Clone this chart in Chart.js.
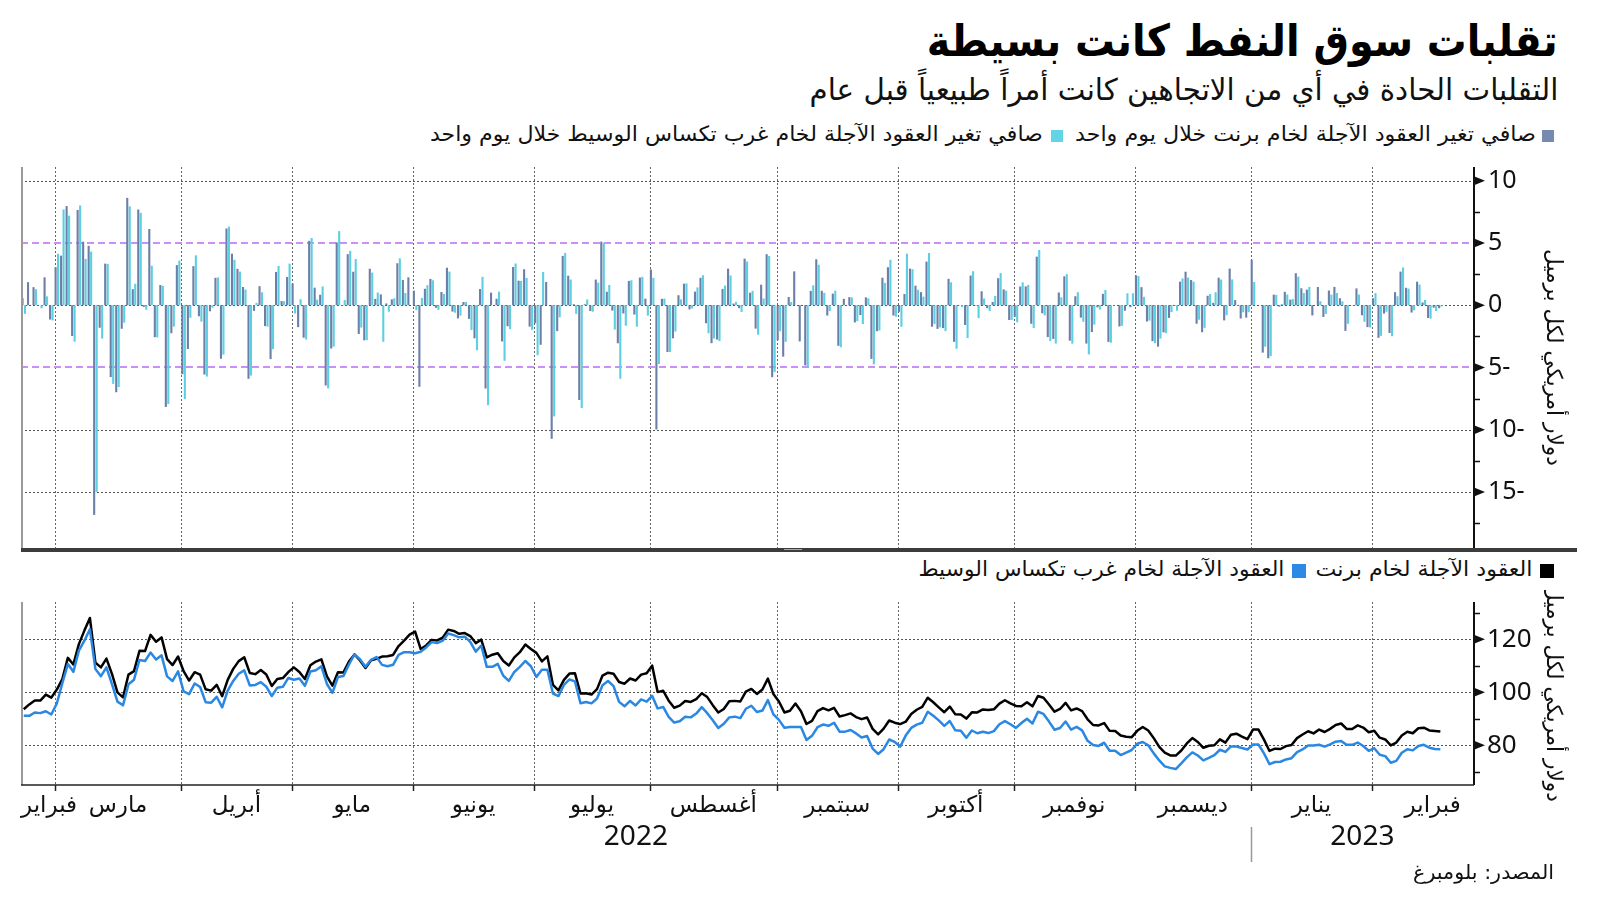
<!DOCTYPE html>
<html lang="ar">
<head>
<meta charset="UTF-8">
<title>تقلبات سوق النفط كانت بسيطة</title>
<script src="https://cdn.jsdelivr.net/npm/chart.js"></script>
<style>
  body { margin: 0; width: 1600px; height: 901px; background: #fff; position: relative; overflow: hidden; font-family: 'DejaVu Sans', sans-serif; }
  .t { position: absolute; white-space: nowrap; direction: rtl; color: #111; line-height: 1; transform-origin: right center; }
  .sq { position: absolute; width: 12px; height: 12px; }
  canvas { position: absolute; left: 0; }
</style>
</head>
<body>
<div class="t fit" data-w="631" style="right:42px;top:19px;font-size:44px;font-weight:bold;color:#000">تقلبات سوق النفط كانت بسيطة</div>
<div class="t fit" data-w="749" style="right:42px;top:75px;font-size:30px;">التقلبات الحادة في أي من الاتجاهين كانت أمراً طبيعياً قبل عام</div>

<div class="sq" style="left:1542px;top:130px;background:#7689b0"></div>
<div class="t fit" data-w="461" style="right:64px;top:124px;font-size:21px">صافي تغير العقود الآجلة لخام برنت خلال يوم واحد</div>
<div class="sq" style="left:1051px;top:130px;background:#63d4e5"></div>
<div class="t fit" data-w="613" style="right:557px;top:124px;font-size:21px">صافي تغير العقود الآجلة لخام غرب تكساس الوسيط خلال يوم واحد</div>

<canvas id="bars" width="1600" height="392" style="top:160px"></canvas>
<canvas id="prices" width="1600" height="290" style="top:590px"></canvas>

<div style="position:absolute;left:21px;top:548px;width:1556px;height:4px;background:#3c3c3c"></div>
<div style="position:absolute;left:784px;top:549px;width:18px;height:1px;background:#aaa"></div>

<div class="sq" style="left:1540px;top:564px;width:14px;height:14px;background:#000"></div>
<div class="t fit" data-w="217" style="right:68px;top:559px;font-size:21px">العقود الآجلة لخام برنت</div>
<div class="sq" style="left:1292px;top:564px;width:14px;height:14px;background:#2a8ae6"></div>
<div class="t fit" data-w="366" style="right:316px;top:559px;font-size:21px">العقود الآجلة لخام غرب تكساس الوسيط</div>

<div class="t fit" data-w="141" style="right:46px;top:862px;font-size:20px">المصدر: بلومبرغ</div>

<script>
// months on the x axis (trading sessions per month, Feb 2022 - Feb 2023)
const monthNames = ['فبراير', 'مارس', 'أبريل', 'مايو', 'يونيو', 'يوليو', 'أغسطس', 'سبتمبر', 'أكتوبر', 'نوفمبر', 'ديسمبر', 'يناير', 'فبراير'];
const monthDays = [7, 23, 20, 22, 22, 21, 23, 22, 21, 22, 21, 22, 12];
const yearLabels = ['2022', '2023'];
const yearFirstMonth = [0, 11];

const barTicks = [-15, -10, -5, 0, 5, 10];
const barMinorTicks = [-17.5, -12.5, -7.5, -2.5, 2.5, 7.5];
const barGridValues = [-15, -10, 0, 10];
const bandValues = [-5, 5];
const priceTicks = [80, 100, 120];
const priceMinorTicks = [70, 90, 110, 130];
const yTitle = 'دولار أمريكي لكل برميل';

// daily net change, USD
const brentChange = [
  0.57, 1.85, 1.45, 0.00, 2.24, -1.15, 3.06,
  3.98, 7.96, -2.47, 7.65, 5.10, 4.77, -16.84, -1.81, 3.34, -5.77, -6.99, -1.89, 8.62, 1.29, 7.69, -0.14, 6.12, -2.57, 1.62, -8.17, -2.25, 3.22, -5.54,
  -3.52, 3.14, -0.89, -5.57, -0.49, 2.20, -4.30, 6.16, 4.14, 2.92, 1.46, -5.91, -0.45, 1.53, -1.68, -4.33, 2.67, 0.33, 2.27, 1.75,
  -1.76, -2.61, 5.17, 1.41, 0.84, -6.45, -3.48, 5.05, -0.06, 4.10, 2.69, -2.31, -2.82, 2.93, 0.51, 0.87, 0.14, 0.47, 3.37, 2.03, 2.24, 1.17,
  -6.55, 1.32, 2.11, -0.21, 1.06, 3.01, -0.51, -1.06, 0.26, -1.10, -2.66, 1.30, -6.69, 1.01, 0.52, -2.91, -1.69, 3.07, 1.97, 2.89, -1.72, -1.45,
  -3.18, 1.87, -10.73, -2.08, 3.96, 2.37, 0.08, -7.61, 0.08, -0.47, 2.06, 5.11, 1.08, -0.43, -3.06, -0.66, 1.95, -0.75, 2.22, 0.52, 2.87,
  -9.98, 0.51, -3.76, -2.66, 0.80, 1.73, -0.34, 1.09, 2.20, -1.45, -3.05, -2.76, 1.31, 2.94, 0.13, -0.24, 3.74, 1.00, -1.88, 1.65, 4.10, -5.78, -2.82,
  -4.13, 0.66, 2.72, -2.91, -4.83, 1.15, 3.69, 1.16, -0.83, 0.93, -3.26, 0.51, 0.65, -1.38, -0.79, 0.63, -4.31, -2.09, 2.21, 3.05, -0.83, -0.53,
  0.90, 2.94, 1.57, 1.05, 3.50, -1.73, -1.90, -1.84, 2.12, -2.94, -0.01, -1.59, 2.38, -0.03, 1.12, -0.24, 0.26, 2.17, 1.27, -1.19, -0.94,
  1.50, 1.51, -1.49, 3.90, -0.65, -2.56, -2.71, 1.02, 2.32, -2.85, 0.72, -1.00, -3.08, -2.16, -0.17, 0.91, -2.95, -0.07, -1.71, -0.44, -0.16, 2.40,
  1.45, -1.31, -2.89, -3.33, -2.18, -1.02, -0.05, 1.89, 2.69, 2.02, -1.49, -2.17, 0.76, 0.19, 2.21, -1.22, 2.94, 0.41, -1.07, -1.00, 3.65,
  0.00, -3.81, -4.26, 0.85, -0.12, 1.08, 0.45, 2.57, 1.36, 1.25, -0.82, 1.46, -0.94, 1.18, 1.47, 0.56, -2.06, -0.01, 1.35, -0.81, -1.76, 0.56,
  -2.62, -0.67, -2.23, 1.05, 2.70, 1.40, -0.59, 1.89, 0.22, -1.03, -0.20, -0.24
];
const wtiChange = [
  -0.69, 0.00, 1.28, -0.25, 0.71, -1.22, 4.13,
  7.69, 7.19, -2.93, 8.01, 3.72, 4.30, -15.00, -2.68, 3.31, -6.32, -6.57, -1.40, 7.94, 1.72, 7.42, -0.36, 3.17, -2.59, 1.56, -7.94, -1.72, 3.58, -7.54,
  -1.01, 4.01, -1.32, -5.73, -0.20, 2.23, -3.97, 6.31, 3.65, 2.70, 1.26, -5.65, 0.19, 1.04, -1.72, -3.53, 3.16, 0.32, 3.34, -0.67,
  0.48, -2.76, 5.40, 0.45, 1.51, -6.68, -3.33, 5.95, 0.42, 4.36, 3.71, -1.80, -2.81, 2.62, 1.02, -2.94, -0.52, 0.56, 3.76, 0.98, 0.00, -0.40,
  0.59, 1.61, 2.00, -0.37, 0.91, 2.70, -0.60, -0.84, 0.26, -2.00, -3.62, 2.28, -8.03, 0.00, 1.09, -4.46, -1.92, 3.35, 1.95, 2.19, -1.98, -4.02,
  2.67, 0.00, -8.93, -0.97, 4.20, 2.06, -0.70, -8.25, 0.46, -0.52, 1.81, 5.01, 1.62, -1.96, -5.91, -1.65, 2.00, -1.72, 2.28, -0.84, 2.20,
  -4.73, 0.53, -3.76, -2.12, 0.47, 1.75, -0.26, 1.43, 2.41, -2.25, -2.68, -2.88, 1.58, 2.39, 0.27, -0.54, 3.51, 1.15, -2.37, 0.54, 3.95, -5.37, -2.09,
  -2.94, 0.26, 0.00, 0.01, -4.94, 1.60, 3.25, 0.99, -0.47, 1.17, -3.38, 0.01, 0.62, -1.28, -1.51, 0.55, -4.75, -2.03, 1.79, 3.65, -0.92, -1.74,
  4.14, 2.89, 1.24, 0.69, 4.19, -1.51, -1.78, -2.08, 1.84, -3.50, -0.15, -2.64, 2.73, -1.04, 0.54, -0.47, 0.74, 2.59, 1.17, -1.18, -1.37,
  1.84, 1.63, -1.83, 4.44, -0.82, -2.88, -3.08, 0.64, 2.49, -3.09, 1.05, -1.33, -3.95, -1.56, -0.35, 1.22, -3.01, 0.00, -1.66, 0.96, 0.96, 2.35,
  0.67, -1.24, -3.05, -2.68, -2.24, -0.55, -0.44, 2.15, 2.22, 1.89, -1.17, -1.82, 0.90, 1.04, 2.06, -0.80, 2.07, -0.03, -0.57, -0.56, 1.86,
  0.00, -3.33, -4.09, 0.83, 0.10, 0.86, 0.49, 2.29, 0.98, 1.47, 0.00, 0.32, -0.70, 0.85, 0.98, 0.31, -1.49, 0.02, 0.86, -1.33, -1.78, 0.97,
  -2.46, -0.53, -2.49, 0.72, 3.03, 1.33, -0.41, 1.66, 0.42, -1.08, -0.47, -0.10
];

// front-month futures, USD per barrel
const brentPrice = [
  93.54, 95.39, 96.84, 96.84, 99.08, 97.93, 100.99,
  104.97, 112.93, 110.46, 118.11, 123.21, 127.98, 111.14, 109.33, 112.67, 106.90, 99.91, 98.02, 106.64, 107.93, 115.62, 115.48, 121.60, 119.03, 120.65, 112.48, 110.23, 113.45, 107.91,
  104.39, 107.53, 106.64, 101.07, 100.58, 102.78, 98.48, 104.64, 108.78, 111.70, 113.16, 107.25, 106.80, 108.33, 106.65, 102.32, 104.99, 105.32, 107.59, 109.34,
  107.58, 104.97, 110.14, 111.55, 112.39, 105.94, 102.46, 107.51, 107.45, 111.55, 114.24, 111.93, 109.11, 112.04, 112.55, 113.42, 113.56, 114.03, 117.40, 119.43, 121.67, 122.84,
  116.29, 117.61, 119.72, 119.51, 120.57, 123.58, 123.07, 122.01, 122.27, 121.17, 118.51, 119.81, 113.12, 114.13, 114.65, 111.74, 110.05, 113.12, 115.09, 117.98, 116.26, 114.81,
  111.63, 113.50, 102.77, 100.69, 104.65, 107.02, 107.10, 99.49, 99.57, 99.10, 101.16, 106.27, 107.35, 106.92, 103.86, 103.20, 105.15, 104.40, 106.62, 107.14, 110.01,
  100.03, 100.54, 96.78, 94.12, 94.92, 96.65, 96.31, 97.40, 99.60, 98.15, 95.10, 92.34, 93.65, 96.59, 96.72, 96.48, 100.22, 101.22, 99.34, 100.99, 105.09, 99.31, 96.49,
  92.36, 93.02, 95.74, 92.83, 88.00, 89.15, 92.84, 94.00, 93.17, 94.10, 90.84, 91.35, 92.00, 90.62, 89.83, 90.46, 86.15, 84.06, 86.27, 89.32, 88.49, 87.96,
  88.86, 91.80, 93.37, 94.42, 97.92, 96.19, 94.29, 92.45, 94.57, 91.63, 91.62, 90.03, 92.41, 92.38, 93.50, 93.26, 93.52, 95.69, 96.96, 95.77, 94.83,
  94.65, 96.16, 94.67, 98.57, 97.92, 95.36, 92.65, 93.67, 95.99, 93.14, 93.86, 92.86, 89.78, 87.62, 87.45, 88.36, 85.41, 85.34, 83.63, 83.19, 83.03, 85.43,
  86.88, 85.57, 82.68, 79.35, 77.17, 76.15, 76.10, 77.99, 80.68, 82.70, 81.21, 79.04, 79.80, 79.99, 82.20, 80.98, 83.92, 84.33, 83.26, 82.26, 85.91,
  85.91, 82.10, 77.84, 78.69, 78.57, 79.65, 80.10, 82.67, 84.03, 85.28, 84.46, 85.92, 84.98, 86.16, 87.63, 88.19, 86.13, 86.12, 87.47, 86.66, 84.90, 85.46,
  82.84, 82.17, 79.94, 80.99, 83.69, 85.09, 84.50, 86.39, 86.61, 85.58, 85.38, 85.14
];
const wtiPrice = [
  91.07, 91.07, 92.35, 92.10, 92.81, 91.59, 95.72,
  103.41, 110.60, 107.67, 115.68, 119.40, 123.70, 108.70, 106.02, 109.33, 103.01, 96.44, 95.04, 102.98, 104.70, 112.12, 111.76, 114.93, 112.34, 113.90, 105.96, 104.24, 107.82, 100.28,
  99.27, 103.28, 101.96, 96.23, 96.03, 98.26, 94.29, 100.60, 104.25, 106.95, 108.21, 102.56, 102.75, 103.79, 102.07, 98.54, 101.70, 102.02, 105.36, 104.69,
  105.17, 102.41, 107.81, 108.26, 109.77, 103.09, 99.76, 105.71, 106.13, 110.49, 114.20, 112.40, 109.59, 112.21, 113.23, 110.29, 109.77, 110.33, 114.09, 115.07, 115.07, 114.67,
  115.26, 116.87, 118.87, 118.50, 119.41, 122.11, 121.51, 120.67, 120.93, 118.93, 115.31, 117.59, 109.56, 109.56, 110.65, 106.19, 104.27, 107.62, 109.57, 111.76, 109.78, 105.76,
  108.43, 108.43, 99.50, 98.53, 102.73, 104.79, 104.09, 95.84, 96.30, 95.78, 97.59, 102.60, 104.22, 102.26, 96.35, 94.70, 96.70, 94.98, 97.26, 96.42, 98.62,
  93.89, 94.42, 90.66, 88.54, 89.01, 90.76, 90.50, 91.93, 94.34, 92.09, 89.41, 86.53, 88.11, 90.50, 90.77, 90.23, 93.74, 94.89, 92.52, 93.06, 97.01, 91.64, 89.55,
  86.61, 86.87, 86.87, 86.88, 81.94, 83.54, 86.79, 87.78, 87.31, 88.48, 85.10, 85.11, 85.73, 84.45, 82.94, 83.49, 78.74, 76.71, 78.50, 82.15, 81.23, 79.49,
  83.63, 86.52, 87.76, 88.45, 92.64, 91.13, 89.35, 87.27, 89.11, 85.61, 85.46, 82.82, 85.55, 84.51, 85.05, 84.58, 85.32, 87.91, 89.08, 87.90, 86.53,
  88.37, 90.00, 88.17, 92.61, 91.79, 88.91, 85.83, 86.47, 88.96, 85.87, 86.92, 85.59, 81.64, 80.08, 79.73, 80.95, 77.94, 77.94, 76.28, 77.24, 78.20, 80.55,
  81.22, 79.98, 76.93, 74.25, 72.01, 71.46, 71.02, 73.17, 75.39, 77.28, 76.11, 74.29, 75.19, 76.23, 78.29, 77.49, 79.56, 79.53, 78.96, 78.40, 80.26,
  80.26, 76.93, 72.84, 73.67, 73.77, 74.63, 75.12, 77.41, 78.39, 79.86, 79.86, 80.18, 79.48, 80.33, 81.31, 81.62, 80.13, 80.15, 81.01, 79.68, 77.90, 78.87,
  76.41, 75.88, 73.39, 74.11, 77.14, 78.47, 78.06, 79.72, 80.14, 79.06, 78.59, 78.49
];

// first session index of every month
const monthStart = [];
monthDays.reduce((acc, d) => { monthStart.push(acc); return acc + d; }, 0);
const ruleShift = 1.4;  // month rules sit a little before the first session
const xMin = -0.5, xMax = 263.1;

const fmt = v => v < 0 ? Math.abs(v) + '-' : String(v);
const toXY = arr => arr.map((v, i) => ({ x: i, y: v }));

function hline(ctx, x1, x2, y) { ctx.beginPath(); ctx.moveTo(x1, y); ctx.lineTo(x2, y); ctx.stroke(); }
function vline(ctx, x, y1, y2) { ctx.beginPath(); ctx.moveTo(x, y1); ctx.lineTo(x, y2); ctx.stroke(); }
const snap = p => Math.round(p) + 0.5;

function monthRules(chart) {
  const x = chart.scales.x;
  return monthStart.slice(1).map(s => x.getPixelForValue(s - ruleShift));
}

function drawAxisDecor(chart, majors, minors) {
  const { ctx, chartArea: a, scales: { y } } = chart;
  ctx.save();
  ctx.setLineDash([]);
  ctx.strokeStyle = '#9a9a9a'; ctx.lineWidth = 2;
  vline(ctx, a.left + 1, a.top, a.bottom);
  ctx.strokeStyle = '#111'; ctx.lineWidth = 2;
  vline(ctx, a.right, a.top, a.bottom);
  ctx.fillStyle = '#111';
  majors.forEach(v => {
    const py = y.getPixelForValue(v);
    ctx.beginPath(); ctx.moveTo(a.right, py - 4.5); ctx.lineTo(a.right + 11, py); ctx.lineTo(a.right, py + 4.5); ctx.closePath(); ctx.fill();
  });
  ctx.lineWidth = 1.5;
  minors.forEach(v => { const py = snap(y.getPixelForValue(v)); hline(ctx, a.right, a.right + 6, py); });
  ctx.restore();
}

function drawYTitle(chart, cx) {
  const { ctx, chartArea: a } = chart;
  ctx.save();
  ctx.translate(cx, (a.top + a.bottom) / 2);
  ctx.rotate(Math.PI / 2);
  ctx.font = "22px 'DejaVu Sans'";
  ctx.fillStyle = '#111';
  ctx.textAlign = 'center'; ctx.textBaseline = 'middle';
  const w = ctx.measureText(yTitle).width;
  ctx.scale(217 / w, 1);
  ctx.fillText(yTitle, 0, 0);
  ctx.restore();
}

const barDecor = {
  id: 'barDecor',
  beforeDatasetsDraw(chart) {
    const { ctx, chartArea: a, scales: { y } } = chart;
    ctx.save();
    ctx.lineWidth = 1; ctx.strokeStyle = '#555'; ctx.setLineDash([2, 2]);
    barGridValues.forEach(v => hline(ctx, a.left, a.right, snap(y.getPixelForValue(v))));
    ctx.strokeStyle = '#666';
    monthRules(chart).forEach(px => vline(ctx, snap(px), a.top, a.bottom));
    ctx.strokeStyle = '#cc8ff7'; ctx.lineWidth = 2; ctx.setLineDash([7, 4]);
    bandValues.forEach(v => hline(ctx, a.left, a.right, Math.round(y.getPixelForValue(v))));
    ctx.restore();
  },
  afterDraw(chart) {
    drawAxisDecor(chart, barTicks, barMinorTicks);
    drawYTitle(chart, 1553);
  }
};

const priceDecor = {
  id: 'priceDecor',
  beforeDatasetsDraw(chart) {
    const { ctx, chartArea: a, scales: { y } } = chart;
    ctx.save();
    ctx.lineWidth = 1; ctx.strokeStyle = '#555'; ctx.setLineDash([2, 2]);
    priceTicks.forEach(v => hline(ctx, a.left, a.right, snap(y.getPixelForValue(v))));
    ctx.strokeStyle = '#666';
    monthRules(chart).forEach(px => vline(ctx, snap(px), a.top, a.bottom));
    ctx.restore();
  },
  afterDraw(chart) {
    const { ctx, chartArea: a } = chart;
    drawAxisDecor(chart, priceTicks, priceMinorTicks);
    drawYTitle(chart, 1553);
    const rules = monthRules(chart);
    ctx.save();
    // x axis line and month ticks
    ctx.strokeStyle = '#222'; ctx.lineWidth = 1.5;
    hline(ctx, a.left, a.right, a.bottom);
    rules.forEach(px => vline(ctx, snap(px), a.bottom, a.bottom + 6));
    // month names
    ctx.fillStyle = '#111';
    ctx.font = "23px 'DejaVu Sans'";
    ctx.textBaseline = 'middle';
    const ly = a.bottom + 21;
    monthNames.forEach((name, k) => {
      const w = ctx.measureText(name).width;
      let left = k === 0 ? a.left : rules[k - 1];
      let right = k < rules.length ? rules[k] : rules[k - 1] + 22 * (rules[1] - rules[0]) / monthDays[1];
      let cx = (left + right) / 2;
      cx = Math.max(cx, a.left + w / 2);
      cx = Math.min(cx, a.right - w / 2);
      ctx.textAlign = 'center';
      ctx.fillText(name, cx, ly);
    });
    // years
    ctx.font = "28px 'Noto Sans'";
    const bounds = [a.left, rules[yearFirstMonth[1] - 1], a.right];
    yearLabels.forEach((yr, k) => {
      ctx.textAlign = 'center';
      ctx.fillText(yr, (bounds[k] + bounds[k + 1]) / 2, a.bottom + 52);
    });
    ctx.strokeStyle = '#999'; ctx.lineWidth = 1.5;
    vline(ctx, snap(bounds[1]), a.bottom + 42, a.bottom + 77);
    ctx.restore();
  }
};

function yAxis(min, max, ticks, size, pad) {
  return {
    position: 'right', min, max,
    afterBuildTicks: s => { s.ticks = ticks.map(v => ({ value: v })); },
    afterFit: s => { s.width = 126; s.paddingTop = 0; s.paddingBottom = 0; s.paddingLeft = 0; s.paddingRight = 0; },
    grid: { display: false, drawTicks: false },
    border: { display: false },
    ticks: { padding: pad, color: '#111', font: { family: 'Noto Sans', size }, callback: v => fmt(v) }
  };
}

const xAxis = { type: 'linear', min: xMin, max: xMax, display: false, offset: false, grid: { offset: false } };

new Chart(document.getElementById('bars'), {
  type: 'bar',
  data: {
    datasets: [
      { label: 'برنت', data: toXY(brentChange), backgroundColor: '#6b7fa8', borderWidth: 0, barPercentage: 0.85, categoryPercentage: 0.9 },
      { label: 'غرب تكساس', data: toXY(wtiChange), backgroundColor: '#5ccfe1', borderWidth: 0, barPercentage: 0.85, categoryPercentage: 0.9 }
    ]
  },
  options: {
    responsive: false, devicePixelRatio: 1, animation: false,
    layout: { padding: { left: 21, top: 7, right: 0, bottom: 4 } },
    plugins: { legend: { display: false }, tooltip: { enabled: false } },
    scales: {
      x: xAxis,
      y: yAxis(-19.5, 11.1, barTicks, 25, 14)
    }
  },
  plugins: [barDecor]
});

new Chart(document.getElementById('prices'), {
  type: 'line',
  data: {
    datasets: [
      { label: 'برنت', data: toXY(brentPrice), borderColor: '#000', borderWidth: 2.5, pointRadius: 0, order: 1, borderJoinStyle: 'round' },
      { label: 'غرب تكساس', data: toXY(wtiPrice), borderColor: '#2a88e2', borderWidth: 2.5, pointRadius: 0, order: 0, borderJoinStyle: 'round' }
    ]
  },
  options: {
    responsive: false, devicePixelRatio: 1, animation: false,
    layout: { padding: { left: 21, top: 12, right: 0, bottom: 95 } },
    plugins: { legend: { display: false }, tooltip: { enabled: false } },
    scales: {
      x: xAxis,
      y: yAxis(65, 134, priceTicks, 26, 13)
    }
  },
  plugins: [priceDecor]
});

// squeeze the Arabic captions to the widths used in the original layout
document.querySelectorAll('.fit').forEach(el => {
  const w = el.getBoundingClientRect().width;
  el.style.transform = 'scaleX(' + (el.dataset.w / w) + ')';
});
</script>
</body>
</html>
